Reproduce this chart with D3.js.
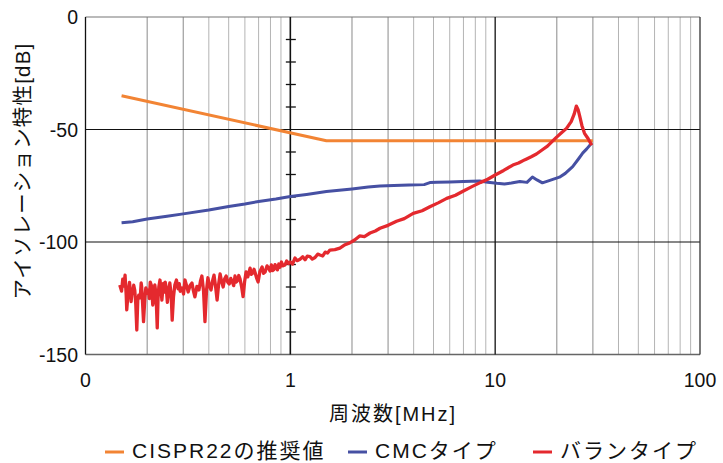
<!DOCTYPE html>
<html>
<head>
<meta charset="utf-8">
<script src="https://cdn.jsdelivr.net/npm/d3@7"></script>
<style>
  body { margin: 0; background: #fff; }
  svg { display: block; }
  text { font-family: "Liberation Sans", "Noto Sans CJK JP", sans-serif; fill: #111; }
</style>
</head>
<body>
<svg id="chart"></svg>
<script>
const width = 723;
const height = 463;
const margin = {top: 17, right: 23, bottom: 108.5, left: 85.5};

// tick labels (0.1 MHz is labelled "0" in the original)
const xTickValues = [0.1, 1, 10, 100];
const xTickLabels = ["0", "1", "10", "100"];
const yTickValues = [0, -50, -100, -150];

// CISPR22 recommended value [MHz, dB]
const cisprFreq = [0.15, 1.5, 30];
const cisprDb = [-35, -55, -55];

// CMC type
const cmcFreq = [0.15, 0.17, 0.2, 0.25, 0.3, 0.4, 0.5, 0.6, 0.7, 0.85, 1, 1.2, 1.5, 2, 2.4, 2.74, 3.2, 3.8, 4.5, 4.8, 5.2, 6, 7, 8.4, 9.2, 10.2, 11.1, 12, 13.2, 14.3, 15.2, 16, 17, 18.5, 20.6, 22, 23.9, 25.5, 26.8, 28, 29.6];
const cmcDb = [-91.4, -91, -89.8, -88.6, -87.5, -85.8, -84.2, -83.1, -82, -80.9, -79.8, -78.9, -77.6, -76.4, -75.6, -75.1, -74.9, -74.7, -74.5, -73.6, -73.4, -73.3, -73.1, -72.9, -73.4, -73.9, -74.2, -73.8, -73.1, -73.5, -71.1, -72.4, -73.7, -72.6, -71.2, -69.5, -66.5, -63.1, -60.4, -58.6, -56];

// balun type
const balunFreq = [
  0.147, 0.15, 0.152, 0.154, 0.156, 0.158, 0.159, 0.161, 0.162, 0.164, 0.166, 0.167, 0.169, 0.17, 0.172, 0.174,
  0.176, 0.178, 0.18, 0.182, 0.185, 0.187, 0.188, 0.19, 0.192, 0.195, 0.197, 0.2, 0.203, 0.205, 0.207, 0.21,
  0.213, 0.216, 0.218, 0.22, 0.222, 0.224, 0.226, 0.228, 0.231, 0.234, 0.236, 0.24, 0.243, 0.245, 0.248, 0.251,
  0.255, 0.258, 0.262, 0.265, 0.269, 0.273, 0.278, 0.283, 0.287, 0.29, 0.296, 0.301, 0.306, 0.312, 0.317, 0.324,
  0.331, 0.336, 0.342, 0.35, 0.358, 0.364, 0.37, 0.377, 0.383, 0.39, 0.396, 0.403, 0.41, 0.417, 0.424, 0.432,
  0.439, 0.447, 0.454, 0.462, 0.47, 0.478, 0.486, 0.495, 0.503, 0.512, 0.52, 0.529, 0.537, 0.545, 0.552, 0.56,
  0.568, 0.578, 0.588, 0.598, 0.608, 0.62, 0.636, 0.645, 0.655, 0.665, 0.674, 0.685, 0.696, 0.71, 0.728, 0.74,
  0.753, 0.77, 0.782, 0.796, 0.808, 0.82, 0.832, 0.842, 0.855, 0.865, 0.878, 0.89, 0.905, 0.92, 0.942, 0.96,
  0.98, 1, 1.025, 1.054, 1.08, 1.115, 1.15, 1.18, 1.21, 1.247, 1.28, 1.32, 1.36, 1.396, 1.44, 1.48, 1.52, 1.56,
  1.65, 1.746, 1.85, 1.95, 2.06, 2.18, 2.3, 2.45, 2.6, 2.74, 3, 3.3, 3.6, 3.98, 4.4, 4.8, 5.3, 5.8, 6.4, 7, 7.7,
  8.5, 9.2, 10, 11, 12.2, 13, 14, 15, 15.9, 17, 18, 19, 19.9, 21, 22.3, 23.5, 24.3, 24.9, 25.4, 25.9, 26.5, 27.3,
  28.4, 29.6
];
const balunDb = [
  -119.1, -121.8, -116.5, -119.6, -114.7, -123.5, -130.2, -124, -121.3, -118, -122.4, -126.5, -121, -123, -119.2, -121.5,
  -127.8, -139.1, -126, -123.6, -124.8, -118.2, -119.8, -127.4, -135.4, -124.7, -120.4, -122.8, -121.3, -125.2, -117.8, -119.5,
  -128, -124.1, -119.1, -122, -128.5, -138.2, -125.3, -120, -116.9, -121.4, -125.8, -118.4, -122.3, -117.8, -120.6, -126.8,
  -121.7, -118.2, -123.4, -134.7, -124.2, -119.1, -116.9, -120.8, -118.5, -121.9, -120.4, -123.1, -116.9, -119.6, -122.2, -119.3,
  -118.2, -121.5, -124.4, -119.7, -121.3, -117.4, -115.1, -121.8, -135.4, -121.2, -115.9, -119.6, -121.3, -117.3, -114.7, -120.1,
  -125.8, -118.5, -114.2, -117.6, -120, -116.3, -115.1, -117.9, -118.7, -116.2, -117.5, -119.4, -115.1, -117.8, -117.2, -114.9,
  -116.4, -119.8, -124.3, -117.7, -113.3, -115.5, -111.6, -114.4, -113.8, -112.1, -113.8, -116.1, -117.8, -113.2, -111.1, -113.9,
  -113.3, -110.6, -111.5, -112.9, -110.2, -112.7, -112.2, -110.1, -111.1, -112.4, -109.8, -111.2, -108.9, -110.6, -110.2, -108.4,
  -109.6, -108.9, -109.8, -107.1, -108.3, -107.7, -106.6, -107.9, -106.3, -106.5, -107.6, -106.9, -105.4, -105.8, -106.2, -104.5,
  -104.9, -103.6, -103.4, -102.7, -101.2, -100.4, -99.1, -97.3, -97.6, -96, -95.1, -93.9, -92.6, -90.8, -89.6, -87.3, -86.1,
  -84.3, -82.5, -80.6, -79.2, -77.3, -75.4, -73.5, -72.1, -70.2, -68.2, -65.8, -64.9, -63.4, -62.1, -60.9, -59, -57.4, -55.3,
  -53.5, -51.6, -49.5, -46.5, -43.2, -39.6, -41.2, -44.3, -48.2, -51.7, -54, -57
];

const seriesNames = ["CISPR22の推奨値", "CMCタイプ", "バランタイプ"];
const seriesColors = ["#f28434", "#4650a3", "#e4292e"];

const svg = d3.select("#chart").attr("width", width).attr("height", height);

const x = d3
  .scaleLog()
  .domain([0.1, 100])
  .range([margin.left, width - margin.right]);

const y = d3
  .scaleLinear()
  .domain([-150, 0])
  .range([height - margin.bottom, margin.top]);

// minor vertical grid (2..9 of each decade)
const minorX = [];
[0.1, 1, 10].forEach((dec) => {
  for (let k = 2; k <= 9; k++) minorX.push(dec * k);
});

svg
  .selectAll(".minor-x")
  .data(minorX)
  .enter()
  .append("line")
  .attr("x1", (d) => x(d))
  .attr("x2", (d) => x(d))
  .attr("y1", margin.top)
  .attr("y2", height - margin.bottom)
  .attr("stroke", (d) => {
    const k = Math.round(d / Math.pow(10, Math.floor(Math.log10(d) + 1e-9)));
    return k <= 3 ? "#8a8a8a" : "#b4b4b4";
  })
  .attr("stroke-width", 1);

// frame
svg
  .append("line")
  .attr("x1", margin.left)
  .attr("x2", width - margin.right)
  .attr("y1", margin.top)
  .attr("y2", margin.top)
  .attr("stroke", "#777")
  .attr("stroke-width", 1.2);

svg
  .append("line")
  .attr("x1", margin.left)
  .attr("x2", width - margin.right)
  .attr("y1", height - margin.bottom)
  .attr("y2", height - margin.bottom)
  .attr("stroke", "#666")
  .attr("stroke-width", 1.5);

// major horizontal grid
svg
  .selectAll(".major-y")
  .data([-50, -100])
  .enter()
  .append("line")
  .attr("x1", margin.left)
  .attr("x2", width - margin.right)
  .attr("y1", (d) => y(d))
  .attr("y2", (d) => y(d))
  .attr("stroke", "#111")
  .attr("stroke-width", 1.2);

// major vertical grid
svg
  .selectAll(".major-x")
  .data([0.1, 1, 10, 100])
  .enter()
  .append("line")
  .attr("x1", (d) => x(d))
  .attr("x2", (d) => x(d))
  .attr("y1", margin.top)
  .attr("y2", height - margin.bottom)
  .attr("stroke", (d) => (d === 100 ? "#333" : "#111"))
  .attr("stroke-width", (d) => (d === 1 ? 1.6 : 1.3));

// small ticks on the axis at 1 MHz, every 10 dB
const minorY = d3.range(-140, 0, 10).filter((d) => d % 50 !== 0);
svg
  .selectAll(".tick-y")
  .data(minorY)
  .enter()
  .append("line")
  .attr("x1", x(1) - 4.5)
  .attr("x2", x(1) + 5.5)
  .attr("y1", (d) => y(d))
  .attr("y2", (d) => y(d))
  .attr("stroke", "#111")
  .attr("stroke-width", 1.3);

// tick labels
svg
  .selectAll(".x-label")
  .data(xTickValues)
  .enter()
  .append("text")
  .attr("x", (d) => x(d))
  .attr("y", 387)
  .attr("text-anchor", "middle")
  .attr("font-size", "19.5px")
  .text((d, i) => xTickLabels[i]);

svg
  .selectAll(".y-label")
  .data(yTickValues)
  .enter()
  .append("text")
  .attr("x", 78)
  .attr("y", (d) => y(d))
  .attr("text-anchor", "end")
  .attr("dominant-baseline", "central")
  .attr("font-size", "19.5px")
  .text((d) => d);

// axis titles
svg
  .append("text")
  .attr("x", 393)
  .attr("y", 421)
  .attr("text-anchor", "middle")
  .attr("font-size", "20px")
  .attr("letter-spacing", "2px")
  .text("周波数[MHz]");

svg
  .append("text")
  .attr("transform", "translate(30,171) rotate(-90)")
  .attr("text-anchor", "middle")
  .attr("font-size", "20.5px")
  .attr("letter-spacing", "1.2px")
  .text("アイソレーション特性[dB]");

// series
const line = d3
  .line()
  .x((d) => x(d[0]))
  .y((d) => y(d[1]));

const series = [
  d3.zip(cisprFreq, cisprDb),
  d3.zip(cmcFreq, cmcDb),
  d3.zip(balunFreq, balunDb),
];
const widths = [3, 3, 3.3];

series.forEach((pts, i) => {
  svg
    .append("path")
    .datum(pts)
    .attr("fill", "none")
    .attr("stroke", seriesColors[i])
    .attr("stroke-width", widths[i])
    .attr("stroke-linejoin", "round")
    .attr("d", line);
});

// legend
const legendX = [105, 348, 533];
const legendY = 452;
seriesNames.forEach((name, i) => {
  svg
    .append("line")
    .attr("x1", legendX[i])
    .attr("x2", legendX[i] + 19)
    .attr("y1", legendY)
    .attr("y2", legendY)
    .attr("stroke", seriesColors[i])
    .attr("stroke-width", 3);

  svg
    .append("text")
    .attr("x", legendX[i] + 27)
    .attr("y", legendY + 6)
    .attr("font-size", "21px")
    .attr("letter-spacing", "2px")
    .text(name);
});
</script>
</body>
</html>
